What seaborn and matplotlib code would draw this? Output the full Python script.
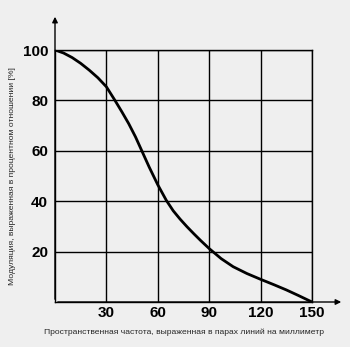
import matplotlib
matplotlib.use("Agg")
import matplotlib.pyplot as plt
import seaborn as sns
import pandas as pd

# Data
freq = [0, 5, 10, 15, 20, 25, 30, 35, 39, 43, 47, 51, 55, 60, 65, 69, 73, 77, 81, 85, 90, 97, 104, 112, 120, 128, 135, 142, 150]
modulation = [100, 98.8, 97, 94.7, 92, 89, 85.4, 80, 75.5, 70.8, 65.5, 59.5, 53.5, 46.5, 40.3, 36.2, 32.9, 29.9, 27.1, 24.4, 21.2, 17.2, 14, 11.3, 9, 6.8, 4.8, 2.6, 0]
x_ticks = [30, 60, 90, 120, 150]
y_ticks = [20, 40, 60, 80, 100]
x_label = "Пространственная частота, выраженная в парах линий на миллиметр"
y_label = "Модуляция, выраженная в процентном отношении [%]"

sns.set_style("white")
plt.rcParams["font.family"] = ["Liberation Sans", "DejaVu Sans"]

df = pd.DataFrame({"freq": freq, "mod": modulation})

bg = "#efefef"
fig = plt.figure(figsize=(3.5, 3.47), dpi=100, facecolor=bg)
ax = fig.add_axes([55 / 350, 1 - 302 / 347, 257 / 350, 252 / 347])
ax.set_facecolor(bg)

sns.lineplot(data=df, x="freq", y="mod", ax=ax, color="black", linewidth=2.0, zorder=5)

ax.set_xlim(0, 150)
ax.set_ylim(0, 100)
ax.set_xticks(x_ticks)
ax.set_yticks(y_ticks)
ax.set_xticklabels([str(v) for v in x_ticks], fontsize=11, fontweight="bold")
ax.set_yticklabels([str(v) for v in y_ticks], fontsize=11, fontweight="bold")
ax.tick_params(axis="x", length=0, pad=3, colors="black")
ax.tick_params(axis="y", length=3, width=1, pad=2, colors="black", direction="out")
ax.grid(True, color="black", linewidth=1.0)
for s in ax.spines.values():
    s.set_color("black")
    s.set_linewidth(1.0)

ax.set_xlabel(x_label, fontsize=6.1, labelpad=6)
ax.set_ylabel(y_label, fontsize=6.1, labelpad=5)

# Axis arrows
ax.annotate("", xy=(0, (302 - 14) / 252), xytext=(0, 0), xycoords="axes fraction",
            arrowprops=dict(arrowstyle="-|>", color="black", lw=1.0, mutation_scale=8),
            annotation_clip=False)
ax.annotate("", xy=((344 - 55) / 257, 0), xytext=(0, 0), xycoords="axes fraction",
            arrowprops=dict(arrowstyle="-|>", color="black", lw=1.0, mutation_scale=8),
            annotation_clip=False)

fig.savefig("out.png", dpi=100, facecolor=bg)
